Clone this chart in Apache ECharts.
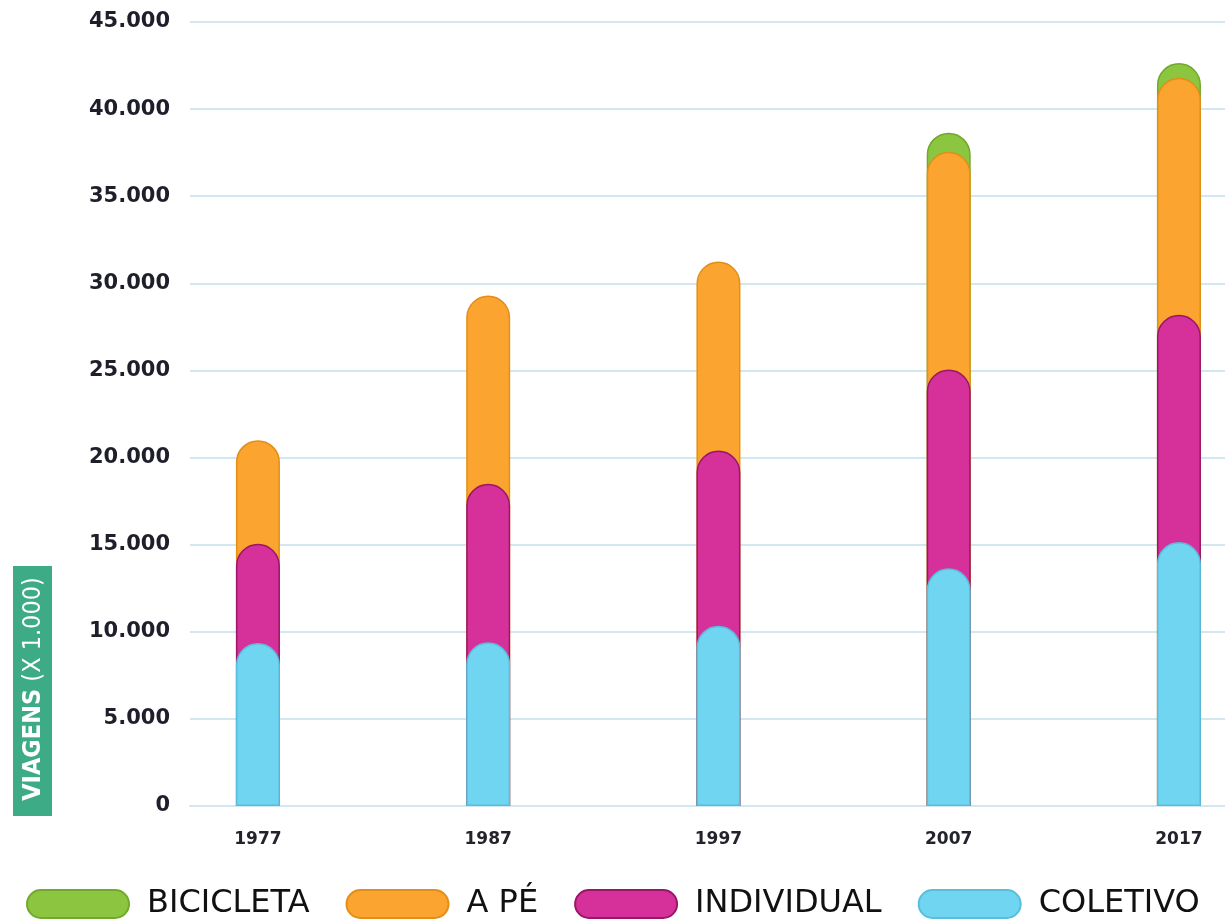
<!DOCTYPE html>
<html>
<head>
<meta charset="utf-8">
<script src="https://cdn.jsdelivr.net/npm/echarts@6/dist/echarts.min.js"></script>
<style>
  html, body { margin: 0; padding: 0; background: #ffffff; }
  #chart { width: 1225px; height: 920px; }
</style>
</head>
<body>
<div id="chart"></div>
<script>
// Viagens diárias por modo (x 1.000)
const years = [1977, 1987, 1997, 2007, 2017];
const coletivo = [9350, 9400, 10350, 13650, 15150];
const individual = [5700, 9100, 10050, 11400, 13050];
const aPe = [5950, 10800, 10850, 12500, 13600];
const bicicleta = [0, 0, 0, 1100, 850];
const yTicks = [0, 5000, 10000, 15000, 20000, 25000, 30000, 35000, 40000, 45000];

// Each layer is drawn from zero up to its running total, so the rounded
// top of a lower segment sits over the segment above it.
const layerColetivo = coletivo.slice();
const layerIndividual = layerColetivo.map((v, i) => v + individual[i]);
const layerAPe = layerIndividual.map((v, i) => v + aPe[i]);
const layerBicicleta = layerAPe.map((v, i) => v + bicicleta[i]);

const pairs = (arr, skipZeroOf) =>
  arr.map((v, i) => (skipZeroOf && skipZeroOf[i] === 0) ? [years[i], null] : [years[i], v]);

function fmtThousands(v) {
  return String(v).replace(/\B(?=(\d{3})+(?!\d))/g, '.');
}

// Stadium-shaped legend swatch
const pillIcon = 'path://M14,0 L88,0 A14,14 0 0 1 88,28 L14,28 A14,14 0 0 1 14,0 Z';

function layer(name, data, color, border) {
  return {
    name: name,
    type: 'bar',
    data: data,
    barWidth: 44,
    barGap: '-100%',
    itemStyle: {
      color: color,
      borderColor: border,
      borderWidth: 1.5,
      borderRadius: [22, 22, 0, 0]
    },
    emphasis: { disabled: true }
  };
}

const chart = echarts.init(document.getElementById('chart'), null, { renderer: 'canvas' });

chart.setOption({
  animation: false,
  backgroundColor: '#ffffff',
  grid: { left: 190, right: 0, top: 22, bottom: 114, containLabel: false },
  xAxis: {
    type: 'value',
    min: 1974.05,
    max: 2019,
    axisLine: { show: true, lineStyle: { color: '#d2e7ef', width: 2 } },
    axisTick: { show: false },
    splitLine: { show: false },
    axisLabel: {
      customValues: years,
      margin: 25,
      color: '#23232b',
      fontFamily: 'DejaVu Sans',
      fontWeight: 'bold',
      fontSize: 17,
      formatter: v => String(v)
    }
  },
  yAxis: {
    type: 'value',
    min: 0,
    max: 45000,
    interval: 5000,
    axisLine: { show: false },
    axisTick: { show: false },
    splitLine: { show: true, lineStyle: { color: '#d2e7ef', width: 2 } },
    axisLabel: {
      margin: 20,
      color: '#1f1f2b',
      fontFamily: 'DejaVu Sans',
      fontWeight: 'bold',
      fontSize: 21,
      formatter: v => fmtThousands(v)
    }
  },
  legend: {
    left: 21,
    top: 883,
    itemWidth: 102,
    itemHeight: 28,
    itemGap: 36,
    icon: pillIcon,
    data: ['BICICLETA', 'A PÉ', 'INDIVIDUAL', 'COLETIVO'],
    textStyle: {
      color: '#111111',
      fontFamily: 'DejaVu Sans',
      fontSize: 32,
      fontWeight: 'normal',
      lineHeight: 28,
      padding: [0, 0, 0, 13]
    },
    selectedMode: false
  },
  graphic: [
    {
      type: 'rect',
      left: 13,
      top: 566,
      shape: { width: 39, height: 250 },
      style: { fill: '#3eab87' },
      silent: true
    },
    {
      type: 'text',
      x: 33,
      y: 689,
      rotation: Math.PI / 2,
      silent: true,
      style: {
        text: '{b|VIAGENS}{n| (X 1.000)}',
        align: 'center',
        verticalAlign: 'middle',
        fill: '#ffffff',
        rich: {
          b: { fontFamily: 'DejaVu Sans Condensed', fontWeight: 'bold', fontSize: 25, fill: '#ffffff' },
          n: { fontFamily: 'DejaVu Sans Condensed', fontWeight: 'normal', fontSize: 25, fill: '#ffffff' }
        }
      }
    }
  ],
  series: [
    layer('BICICLETA', pairs(layerBicicleta, bicicleta), '#8cc540', '#72a92c'),
    layer('A PÉ', pairs(layerAPe), '#fba42f', '#e38e18'),
    layer('INDIVIDUAL', pairs(layerIndividual), '#d6309a', '#99166a'),
    layer('COLETIVO', pairs(layerColetivo), '#70d5f1', '#58bedb')
  ]
});
</script>
</body>
</html>
